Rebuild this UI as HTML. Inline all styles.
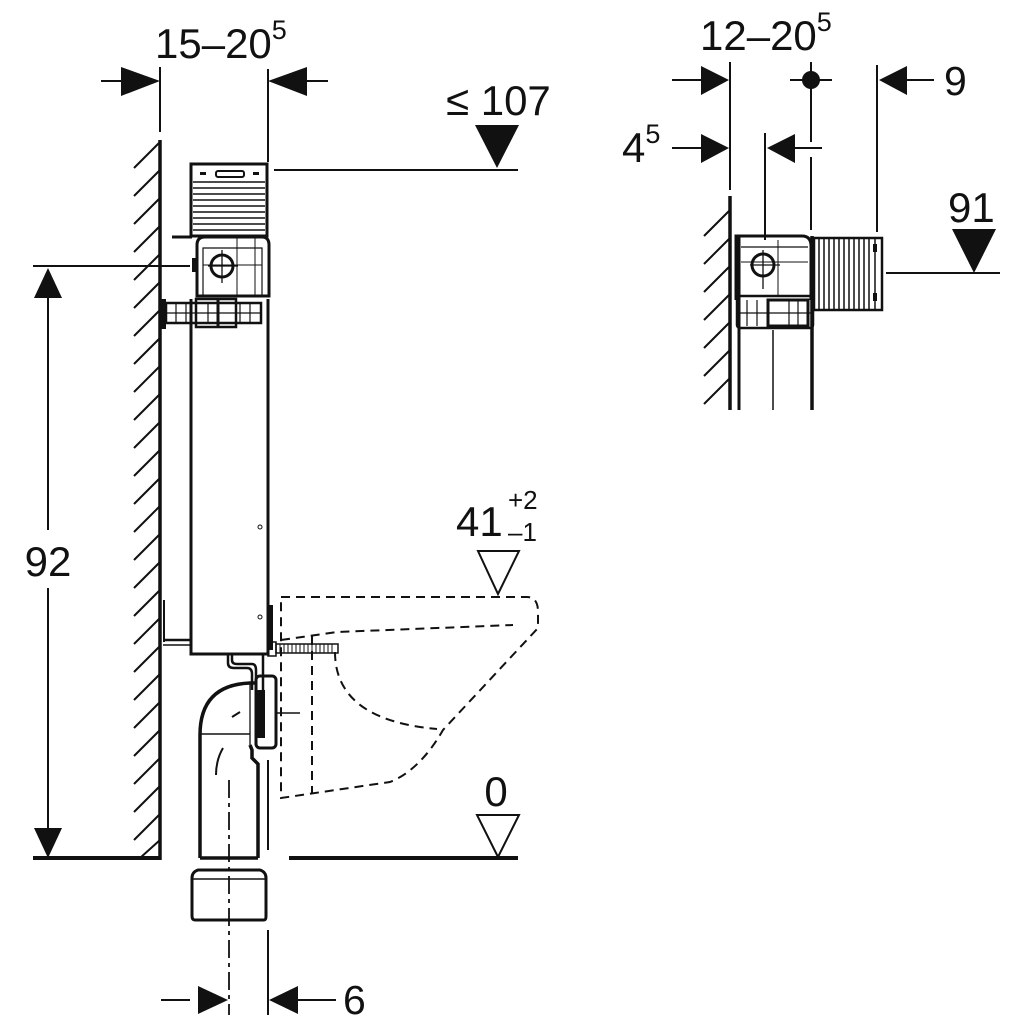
<!DOCTYPE html>
<html><head><meta charset="utf-8"><style>
html,body{margin:0;padding:0;background:#fff;}
svg{display:block;}
text{font-family:"Liberation Sans",sans-serif;fill:#111;}
</style></head><body>
<svg width="1024" height="1024" viewBox="0 0 1024 1024" xmlns="http://www.w3.org/2000/svg" stroke="#111" fill="none" stroke-linecap="butt">
<!-- ===== LEFT FIGURE ===== -->
<text x="155" y="58" font-size="42" stroke="none">15–20<tspan font-size="27" dy="-19">5</tspan></text>
<line x1="160" y1="67" x2="160" y2="132" stroke-width="2"/>
<line x1="268" y1="69" x2="268" y2="162" stroke-width="2"/>
<line x1="101" y1="81" x2="130" y2="81" stroke-width="2"/>
<polygon points="121,67 160,81 121,96" fill="#111" stroke="none"/>
<line x1="300" y1="81" x2="328" y2="81" stroke-width="2"/>
<polygon points="307,67 268,81 307,96" fill="#111" stroke="none"/>
<text x="446" y="115" font-size="42" stroke="none">≤ 107</text>
<polygon points="475,125 519,125 497,168" fill="#111" stroke="none"/>
<line x1="274" y1="170" x2="518" y2="170" stroke-width="2"/>
<line x1="160" y1="140" x2="160" y2="860" stroke-width="3.5"/>
<g stroke-width="2">
<line x1="134" y1="168" x2="160" y2="142"/>
<line x1="134" y1="196" x2="160" y2="170"/>
<line x1="134" y1="224" x2="160" y2="198"/>
<line x1="134" y1="252" x2="160" y2="226"/>
<line x1="134" y1="280" x2="160" y2="254"/>
<line x1="134" y1="308" x2="160" y2="282"/>
<line x1="134" y1="336" x2="160" y2="310"/>
<line x1="134" y1="364" x2="160" y2="338"/>
<line x1="134" y1="392" x2="160" y2="366"/>
<line x1="134" y1="420" x2="160" y2="394"/>
<line x1="134" y1="448" x2="160" y2="422"/>
<line x1="134" y1="476" x2="160" y2="450"/>
<line x1="134" y1="504" x2="160" y2="478"/>
<line x1="134" y1="532" x2="160" y2="506"/>
<line x1="134" y1="560" x2="160" y2="534"/>
<line x1="134" y1="588" x2="160" y2="562"/>
<line x1="134" y1="616" x2="160" y2="590"/>
<line x1="134" y1="644" x2="160" y2="618"/>
<line x1="134" y1="672" x2="160" y2="646"/>
<line x1="134" y1="700" x2="160" y2="674"/>
<line x1="134" y1="728" x2="160" y2="702"/>
<line x1="134" y1="756" x2="160" y2="730"/>
<line x1="134" y1="784" x2="160" y2="758"/>
<line x1="134" y1="812" x2="160" y2="786"/>
<line x1="134" y1="840" x2="160" y2="814"/>
<line x1="140" y1="858" x2="160" y2="840"/>
</g>
<line x1="33" y1="858" x2="161" y2="858" stroke-width="4"/>
<line x1="289" y1="858" x2="518" y2="858" stroke-width="4"/>
<line x1="33" y1="266" x2="190" y2="266" stroke-width="2"/>
<polygon points="48,268 34,298 62,298" fill="#111" stroke="none"/>
<line x1="48" y1="296" x2="48" y2="530" stroke-width="2"/>
<text x="48" y="576" font-size="42" text-anchor="middle" stroke="none">92</text>
<line x1="48" y1="588" x2="48" y2="830" stroke-width="2"/>
<polygon points="48,858 34,828 62,828" fill="#111" stroke="none"/>
<rect x="191" y="164" width="76" height="72" stroke-width="3"/>
<g stroke-width="1.6">
<line x1="193" y1="182" x2="265" y2="182"/><line x1="193" y1="188" x2="265" y2="188"/>
<line x1="193" y1="194" x2="265" y2="194"/><line x1="193" y1="200" x2="265" y2="200"/>
<line x1="193" y1="206" x2="265" y2="206"/><line x1="193" y1="212" x2="265" y2="212"/>
<line x1="193" y1="218" x2="265" y2="218"/><line x1="193" y1="224" x2="265" y2="224"/>
<line x1="193" y1="230" x2="265" y2="230"/>
</g>
<rect x="216" y="171" width="28" height="6" rx="2" stroke-width="2"/>
<rect x="200" y="172" width="6" height="3" fill="#111" stroke="none"/>
<rect x="253" y="172" width="6" height="3" fill="#111" stroke="none"/>
<line x1="172" y1="237" x2="192" y2="237" stroke-width="3"/>
<path d="M197 296 V245 Q197 237 205 237 H262 Q269 237 269 245 V296 Z" stroke-width="3"/>
<path d="M203 295 V248 H262 V295" stroke-width="1.2"/>
<line x1="237" y1="238" x2="237" y2="295" stroke-width="1"/>
<line x1="255" y1="238" x2="255" y2="295" stroke-width="1"/>
<line x1="203" y1="265" x2="262" y2="265" stroke-width="1"/>
<circle cx="222" cy="266" r="11" stroke-width="3"/>
<line x1="208" y1="266" x2="238" y2="266" stroke-width="1.3"/>
<line x1="222" y1="250" x2="222" y2="283" stroke-width="1.3"/>
<rect x="192" y="258" width="4" height="14" fill="#111" stroke="none"/>
<rect x="160" y="299" width="6" height="30" fill="#111" stroke="none"/>
<rect x="166" y="303" width="95" height="20" stroke-width="2.5"/>
<rect x="196" y="299" width="40" height="28" stroke-width="2.5"/>
<g stroke-width="1.2">
<line x1="176" y1="303" x2="176" y2="323"/><line x1="186" y1="303" x2="186" y2="323"/>
<line x1="208" y1="303" x2="208" y2="323"/><line x1="218" y1="303" x2="218" y2="323"/>
<line x1="240" y1="303" x2="240" y2="323"/><line x1="250" y1="303" x2="250" y2="323"/>
<line x1="166" y1="313" x2="261" y2="313"/>
</g>
<line x1="218" y1="299" x2="218" y2="327" stroke-width="3"/>
<path d="M191 299 V654 H268 V299" stroke-width="3"/>
<circle cx="260" cy="527" r="2" stroke-width="1"/>
<circle cx="260" cy="617" r="2" stroke-width="1"/>
<line x1="163" y1="640" x2="191" y2="640" stroke-width="2.5"/>
<line x1="163" y1="645" x2="191" y2="645" stroke-width="1.5"/>
<line x1="164" y1="600" x2="164" y2="642" stroke-width="2"/>
<line x1="271" y1="605" x2="271" y2="650" stroke-width="4"/>
<rect x="268" y="642" width="8" height="14" stroke-width="1.5"/>
<rect x="276" y="644" width="62" height="9" stroke-width="1.5"/>
<g stroke-width="1">
<line x1="280" y1="644" x2="280" y2="653"/><line x1="284" y1="644" x2="284" y2="653"/><line x1="288" y1="644" x2="288" y2="653"/><line x1="292" y1="644" x2="292" y2="653"/><line x1="296" y1="644" x2="296" y2="653"/><line x1="300" y1="644" x2="300" y2="653"/><line x1="304" y1="644" x2="304" y2="653"/><line x1="308" y1="644" x2="308" y2="653"/><line x1="312" y1="644" x2="312" y2="653"/><line x1="316" y1="644" x2="316" y2="653"/><line x1="320" y1="644" x2="320" y2="653"/><line x1="324" y1="644" x2="324" y2="653"/><line x1="328" y1="644" x2="328" y2="653"/><line x1="332" y1="644" x2="332" y2="653"/>
</g>
<path d="M228 655 V663 Q228 668 234 668 H247 Q252 668 252 674 V690 M232 655 V660 Q232 664 237 664 H252 Q256 664 256 670 V690" stroke-width="2.5"/>
<line x1="263" y1="654" x2="263" y2="690" stroke-width="2.5"/>
<path d="M200 858 V735 Q200 685 250 683 H256" stroke-width="3.5"/>
<line x1="200" y1="734" x2="250" y2="734" stroke-width="1.5"/>
<line x1="250" y1="683" x2="250" y2="745" stroke-width="1.3"/>
<path d="M250 745 L252 750 V758 L258 764 V858 M200 858 H258" stroke-width="3.5"/>
<path d="M223 748 Q216 760 216 775 M232 717 L240 712" stroke-width="2"/>
<rect x="256" y="676" width="20" height="72" rx="4" stroke-width="3"/>
<rect x="255" y="690" width="10" height="48" fill="#111" stroke="none"/>
<line x1="276" y1="713" x2="300" y2="713" stroke-width="1.5"/>
<line x1="268" y1="760" x2="268" y2="850" stroke-width="2"/>
<path d="M195 920 H264 Q266 920 266 916 V878 Q266 872 260 870 H198 Q192 872 192 878 V916 Q192 920 195 920 Z" stroke-width="3"/>
<line x1="192" y1="879" x2="266" y2="879" stroke-width="1.5"/>
<line x1="229" y1="780" x2="229" y2="1015" stroke-width="1.8" stroke-dasharray="18,5,4,5"/>
<line x1="268" y1="930" x2="268" y2="1015" stroke-width="2"/>
<line x1="161" y1="1000" x2="190" y2="1000" stroke-width="2"/>
<polygon points="198,986 228,1000 198,1014" fill="#111" stroke="none"/>
<polygon points="298,986 269,1000 298,1014" fill="#111" stroke="none"/>
<line x1="298" y1="1000" x2="336" y2="1000" stroke-width="2"/>
<text x="343" y="1014" font-size="41" stroke="none">6</text>
<g stroke-width="2" stroke-dasharray="9,6">
<path d="M281 597 H527 Q538 597 538 612 V628 L443 730 Q420 770 390 782 L281 798 Z"/>
<path d="M281 640 L337 632 L513 625"/>
<line x1="312" y1="636" x2="312" y2="793"/>
<path d="M335 652 Q335 720 437 729"/>
</g>
<text x="456" y="536" font-size="42" stroke="none">41</text>
<text x="508" y="509" font-size="26" stroke="none">+2</text>
<text x="508" y="541" font-size="26" stroke="none">–1</text>
<polygon points="478,551 519,551 498,594" stroke-width="2"/>
<text x="496" y="806" font-size="42" text-anchor="middle" stroke="none">0</text>
<polygon points="477,815 519,815 498,857" stroke-width="2"/>

<!-- ===== RIGHT FIGURE ===== -->
<text x="700" y="50" font-size="42" stroke="none">12–20<tspan font-size="27" dy="-19">5</tspan></text>
<line x1="730" y1="62" x2="730" y2="190" stroke-width="2"/>
<line x1="877" y1="65" x2="877" y2="232" stroke-width="2"/>
<line x1="672" y1="80" x2="702" y2="80" stroke-width="2"/>
<polygon points="701,66 729,80 701,95" fill="#111" stroke="none"/>
<line x1="906" y1="80" x2="934" y2="80" stroke-width="2"/>
<polygon points="907,66 879,80 907,95" fill="#111" stroke="none"/>
<text x="944" y="95" font-size="41" stroke="none">9</text>
<circle cx="811" cy="80" r="9" fill="#111" stroke="none"/>
<line x1="790" y1="80" x2="832" y2="80" stroke-width="2"/>
<line x1="811" y1="62" x2="811" y2="142" stroke-width="2"/>
<line x1="811" y1="157" x2="811" y2="230" stroke-width="2"/>
<line x1="765" y1="133" x2="765" y2="240" stroke-width="2"/>
<text x="622" y="162" font-size="42" stroke="none">4<tspan font-size="27" dy="-19">5</tspan></text>
<line x1="672" y1="148" x2="702" y2="148" stroke-width="2"/>
<polygon points="701,134 729,148 701,163" fill="#111" stroke="none"/>
<polygon points="795,134 767,148 795,163" fill="#111" stroke="none"/>
<line x1="795" y1="148" x2="822" y2="148" stroke-width="2"/>
<text x="948" y="222" font-size="42" stroke="none">91</text>
<polygon points="952,229 996,229 974,273" fill="#111" stroke="none"/>
<line x1="886" y1="273" x2="1000" y2="273" stroke-width="2"/>
<line x1="730" y1="196" x2="730" y2="410" stroke-width="3.5"/>
<g stroke-width="2">
<line x1="704" y1="236" x2="730" y2="210"/>
<line x1="704" y1="264" x2="730" y2="238"/>
<line x1="704" y1="292" x2="730" y2="266"/>
<line x1="704" y1="320" x2="730" y2="294"/>
<line x1="704" y1="348" x2="730" y2="322"/>
<line x1="704" y1="376" x2="730" y2="350"/>
<line x1="704" y1="404" x2="730" y2="378"/>
</g>
<path d="M736 300 V236 H802 Q811 236 811 246 V300" stroke-width="3"/>
<line x1="739" y1="236" x2="739" y2="410" stroke-width="3"/>
<line x1="741" y1="247" x2="808" y2="247" stroke-width="1.2"/>
<line x1="741" y1="262" x2="808" y2="262" stroke-width="1"/>
<line x1="778" y1="240" x2="778" y2="295" stroke-width="1"/>
<circle cx="763" cy="265" r="11" stroke-width="3"/>
<line x1="750" y1="265" x2="780" y2="265" stroke-width="1.3"/>
<line x1="763" y1="250" x2="763" y2="289" stroke-width="1.3"/>
<rect x="737" y="296" width="76" height="32" rx="3" stroke-width="2.5"/>
<rect x="768" y="300" width="40" height="26" stroke-width="3"/>
<g stroke-width="1.2">
<line x1="747" y1="300" x2="747" y2="326"/><line x1="757" y1="300" x2="757" y2="326"/><line x1="789" y1="300" x2="789" y2="326"/><line x1="798" y1="300" x2="798" y2="326"/>
<line x1="737" y1="313" x2="813" y2="313"/>
</g>
<line x1="812" y1="236" x2="812" y2="410" stroke-width="3.5"/>
<line x1="773" y1="330" x2="773" y2="410" stroke-width="1.5"/>
<rect x="814" y="238" width="68" height="72" stroke-width="2.5"/>
<g stroke-width="1.5">
<line x1="819" y1="238" x2="819" y2="310"/><line x1="824" y1="238" x2="824" y2="310"/><line x1="829" y1="238" x2="829" y2="310"/><line x1="834" y1="238" x2="834" y2="310"/><line x1="839" y1="238" x2="839" y2="310"/><line x1="844" y1="238" x2="844" y2="310"/><line x1="849" y1="238" x2="849" y2="310"/><line x1="854" y1="238" x2="854" y2="310"/><line x1="859" y1="238" x2="859" y2="310"/><line x1="864" y1="238" x2="864" y2="310"/><line x1="869" y1="238" x2="869" y2="310"/><line x1="875" y1="238" x2="875" y2="310"/>
</g>
<rect x="873" y="244" width="4" height="8" fill="#111" stroke="none"/>
<rect x="873" y="293" width="4" height="8" fill="#111" stroke="none"/>
</svg>
</body></html>
